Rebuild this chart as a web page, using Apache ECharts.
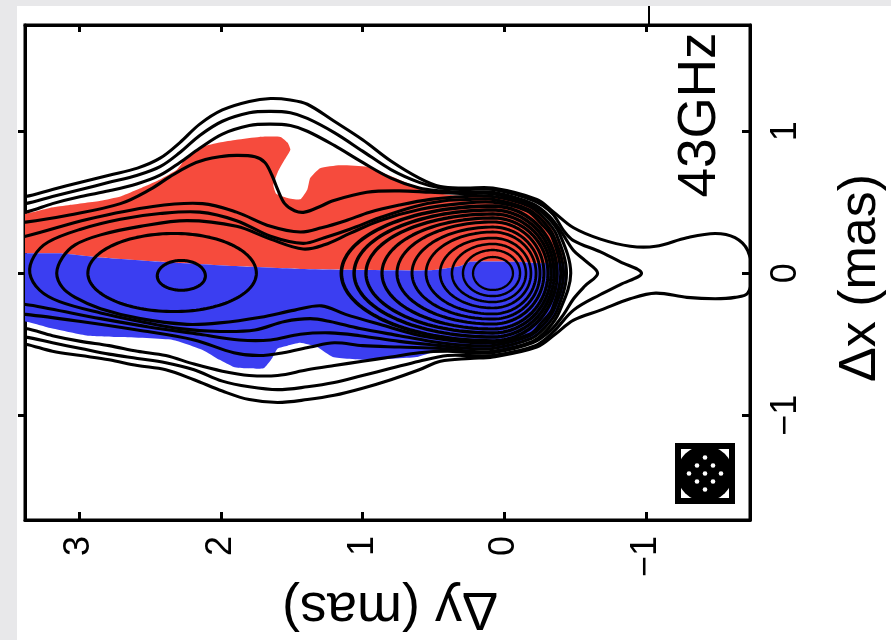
<!DOCTYPE html>
<html>
<head>
<meta charset="utf-8">
<title>43GHz polarization map</title>
<script src="https://cdn.jsdelivr.net/npm/echarts@6.0.0/dist/echarts.min.js"></script>
<style>
  html, body { margin: 0; padding: 0; background: #fff; }
  #chart { width: 891px; height: 640px; }
</style>
</head>
<body>
<div id="chart"></div>
<script>
// ---- axis ticks and texts ----
const dyTicks = [-1, 0, 1, 2, 3];
const dxTicks = [-1, 0, 1];
const bandLabel = '43GHz';
const dyTitle = '\u0394y (mas)';
const dxTitle = '\u0394x (mas)';

// ---- signed regions, outlines as [Δy, Δx] in mas ----
const positiveRegion = [
  [3.56,0.42],[3.38,0.42],[3.21,0.46],[3.07,0.48],[2.85,0.51],[2.71,0.54],[2.54,0.61],[2.43,0.66],
  [2.31,0.73],[2.24,0.82],[2.13,0.89],[2.01,0.92],[1.89,0.94],[1.73,0.96],[1.58,0.96],[1.53,0.92],
  [1.51,0.87],[1.55,0.80],[1.60,0.71],[1.63,0.62],[1.61,0.56],[1.53,0.53],[1.44,0.52],[1.39,0.59],
  [1.37,0.67],[1.30,0.74],[1.16,0.76],[0.97,0.75],[0.79,0.68],[0.62,0.61],[0.45,0.56],[0.24,0.54],
  [0.00,0.53],[-0.18,0.47],[-0.31,0.36],[-0.39,0.20],[-0.42,0.07],
  [-0.25,0.07],[-0.08,0.08],[0.24,0.08],[0.31,0.05],[0.52,0.02],[1.44,0.03],[1.91,0.05],[2.43,0.08],
  [2.85,0.11],[3.14,0.14],[3.38,0.14],[3.56,0.14]
];
const negativeRegion = [
  [3.56,0.14],[3.38,0.14],[3.14,0.14],[2.85,0.11],[2.43,0.08],[1.91,0.05],[1.44,0.03],[0.52,0.02],
  [0.31,0.05],[0.24,0.08],[-0.08,0.08],[-0.25,0.07],[-0.42,0.07],
  [-0.43,-0.06],[-0.39,-0.22],[-0.31,-0.36],[-0.18,-0.47],[0.00,-0.53],[0.24,-0.54],[0.45,-0.54],
  [0.62,-0.59],[0.97,-0.61],[1.21,-0.59],[1.32,-0.52],[1.44,-0.49],[1.53,-0.51],[1.60,-0.53],
  [1.64,-0.60],[1.70,-0.67],[1.82,-0.67],[1.91,-0.66],[2.01,-0.61],[2.13,-0.54],[2.34,-0.47],
  [2.71,-0.45],[2.94,-0.44],[3.19,-0.39],[3.38,-0.34],[3.56,-0.33]
];

// ---- jet contours, outermost first, [Δy, Δx] in mas ----
const contour1 = [
  [3.56,0.52],[3.38,0.54],[3.19,0.59],[2.99,0.64],[2.79,0.69],[2.59,0.74],[2.43,0.81],[2.29,0.92],
  [2.15,1.05],[1.99,1.15],[1.80,1.21],[1.65,1.23],[1.51,1.22],[1.39,1.19],[1.20,1.07],[1.00,0.94],
  [0.80,0.79],[0.60,0.67],[0.45,0.61],[0.28,0.60],[0.08,0.60],[-0.23,0.52],[-0.35,0.43],[-0.49,0.32],
  [-0.68,0.24],[-0.89,0.19],[-1.07,0.19],[-1.29,0.25],[-1.49,0.28],[-1.63,0.25],[-1.72,0.16],[-1.75,0.00],
  [-1.72,-0.14],[-1.63,-0.17],[-1.49,-0.18],[-1.29,-0.17],[-1.07,-0.14],[-0.89,-0.18],[-0.68,-0.26],
  [-0.49,-0.33],[-0.36,-0.43],[-0.23,-0.52],[0.08,-0.59],[0.24,-0.60],[0.45,-0.62],[0.60,-0.68],
  [0.80,-0.75],[1.00,-0.81],[1.20,-0.86],[1.39,-0.89],[1.60,-0.91],[1.80,-0.89],[1.99,-0.83],
  [2.19,-0.75],[2.39,-0.68],[2.59,-0.65],[2.79,-0.61],[2.99,-0.58],[3.19,-0.55],[3.38,-0.50],[3.56,-0.48]
];
const contour2 = [
  [3.56,0.47],[3.38,0.49],[3.19,0.54],[2.99,0.59],[2.79,0.64],[2.59,0.69],[2.43,0.75],[2.29,0.85],
  [2.15,0.97],[1.99,1.07],[1.80,1.13],[1.65,1.14],[1.51,1.13],[1.39,1.09],[1.20,0.99],[1.00,0.86],
  [0.80,0.73],[0.60,0.64],[0.45,0.60],[0.28,0.59],[0.08,0.59],[-0.21,0.51],[-0.34,0.42],[-0.42,0.30],
  [-0.49,0.23],[-0.68,0.15],[-0.82,0.08],[-0.97,0.00],[-0.82,-0.08],[-0.68,-0.15],[-0.49,-0.26],
  [-0.35,-0.41],[-0.22,-0.51],[0.08,-0.58],[0.24,-0.58],[0.40,-0.58],[0.60,-0.62],[0.80,-0.67],
  [1.00,-0.72],[1.20,-0.77],[1.39,-0.80],[1.60,-0.82],[1.80,-0.80],[1.99,-0.76],[2.19,-0.68],
  [2.39,-0.63],[2.59,-0.60],[2.79,-0.57],[2.99,-0.53],[3.19,-0.49],[3.38,-0.45],[3.56,-0.44]
];
const contour3 = [
  [3.56,0.42],[3.38,0.43],[3.19,0.49],[2.99,0.54],[2.79,0.58],[2.59,0.63],[2.43,0.69],[2.29,0.78],
  [2.15,0.88],[1.99,0.98],[1.80,1.04],[1.65,1.05],[1.51,1.04],[1.39,1.00],[1.20,0.90],[1.00,0.78],
  [0.80,0.67],[0.60,0.60],[0.45,0.58],[0.28,0.57],[0.08,0.57],[-0.20,0.49],[-0.32,0.40],[-0.41,0.28],
  [-0.49,0.16],[-0.57,0.09],[-0.66,0.00],[-0.57,-0.09],[-0.49,-0.18],[-0.42,-0.29],[-0.33,-0.40],
  [-0.20,-0.49],[0.08,-0.56],[0.24,-0.56],[0.40,-0.55],[0.60,-0.56],[0.80,-0.59],[1.00,-0.62],
  [1.20,-0.65],[1.39,-0.68],[1.60,-0.72],[1.80,-0.72],[1.99,-0.69],[2.19,-0.64],[2.39,-0.58],
  [2.59,-0.55],[2.79,-0.51],[2.99,-0.48],[3.19,-0.44],[3.38,-0.39],[3.56,-0.38]
];
const contour4 = [
  [3.56,0.35],[3.38,0.36],[3.07,0.41],[2.71,0.49],[2.50,0.59],[2.36,0.68],[2.22,0.76],[2.11,0.80],
  [2.01,0.82],[1.89,0.83],[1.76,0.82],[1.69,0.78],[1.64,0.69],[1.60,0.59],[1.55,0.49],[1.48,0.44],
  [1.41,0.43],[1.30,0.47],[1.21,0.51],[0.97,0.57],[0.74,0.58],[0.52,0.57],[0.28,0.56],[0.08,0.56],
  [-0.19,0.48],[-0.30,0.40],[-0.39,0.28],[-0.47,0.00],[-0.39,-0.27],[-0.31,-0.39],[-0.20,-0.48],
  [0.08,-0.55],[0.24,-0.55],[0.45,-0.53],[0.74,-0.52],[1.00,-0.51],[1.20,-0.49],[1.37,-0.52],
  [1.56,-0.56],[1.73,-0.58],[1.91,-0.56],[2.19,-0.47],[2.59,-0.40],[2.99,-0.34],[3.38,-0.29],[3.56,-0.28]
];
const contour5 = [
  [3.56,0.23],[3.38,0.26],[2.94,0.38],[2.48,0.47],[2.13,0.49],[1.89,0.43],[1.65,0.33],[1.44,0.29],
  [1.29,0.32],[1.12,0.37],[0.95,0.43],[0.74,0.48],[0.52,0.52],[0.28,0.54],[0.08,0.54],[-0.18,0.47],
  [-0.29,0.38],[-0.37,0.27],[-0.44,0.00],[-0.37,-0.27],[-0.29,-0.38],[-0.19,-0.46],[0.08,-0.53],
  [0.24,-0.53],[0.45,-0.51],[0.74,-0.48],[1.02,-0.44],[1.23,-0.42],[1.44,-0.43],[1.65,-0.47],
  [1.87,-0.47],[2.15,-0.43],[2.50,-0.38],[2.85,-0.32],[3.21,-0.25],[3.38,-0.22],[3.56,-0.21]
];
const contour6 = [
  [3.35,0.00],[3.32,0.12],[3.22,0.22],[2.99,0.31],[2.71,0.38],[2.43,0.42],[2.15,0.43],[1.89,0.37],
  [1.65,0.26],[1.42,0.21],[1.27,0.25],[1.09,0.31],[0.88,0.39],[0.63,0.47],[0.42,0.51],[0.24,0.52],
  [0.08,0.52],[-0.17,0.45],[-0.27,0.37],[-0.35,0.26],[-0.42,0.00],[-0.35,-0.26],[-0.27,-0.37],
  [-0.18,-0.44],[0.08,-0.51],[0.24,-0.51],[0.45,-0.49],[0.74,-0.44],[1.02,-0.39],[1.23,-0.34],
  [1.37,-0.32],[1.55,-0.34],[1.76,-0.40],[2.01,-0.41],[2.29,-0.39],[2.57,-0.34],[2.85,-0.28],
  [3.14,-0.20],[3.28,-0.12]
];
const contour7 = [
  [3.16,0.00],[3.12,0.11],[3.03,0.20],[2.85,0.27],[2.57,0.33],[2.24,0.37],[1.89,0.33],[1.65,0.24],
  [1.42,0.17],[1.27,0.20],[1.09,0.28],[0.88,0.37],[0.59,0.45],[0.31,0.49],[0.08,0.50],[-0.16,0.44],
  [-0.26,0.35],[-0.34,0.25],[-0.40,0.00],[-0.34,-0.25],[-0.27,-0.34],[-0.18,-0.43],[0.08,-0.49],
  [0.31,-0.48],[0.59,-0.44],[0.88,-0.36],[1.12,-0.29],[1.29,-0.23],[1.48,-0.26],[1.72,-0.31],
  [2.01,-0.35],[2.24,-0.36],[2.57,-0.32],[2.85,-0.25],[3.03,-0.17],[3.12,-0.10]
];
const jetContours = [contour1, contour2, contour3, contour4, contour5, contour6, contour7];

// ---- closed rings: [Δy centre, Δx centre, Δy left, Δy right, Δx top, Δx bottom] (mas) ----
const coreRings = [
  [0.08, 0.00, 0.220, -0.062, 0.114, -0.118],
  [0.08, 0.00, 0.291, -0.112, 0.163, -0.161],
  [0.08, 0.00, 0.369, -0.154, 0.206, -0.203],
  [0.08, 0.00, 0.453, -0.189, 0.248, -0.245],
  [0.08, 0.00, 0.552, -0.225, 0.290, -0.287],
  [0.08, 0.00, 0.651, -0.253, 0.325, -0.323],
  [0.08, 0.00, 0.757, -0.281, 0.361, -0.358],
  [0.08, 0.00, 0.863, -0.309, 0.389, -0.393],
  [0.08, 0.00, 0.976, -0.331, 0.417, -0.421],
  [0.08, 0.00, 1.060, -0.352, 0.445, -0.449],
  [0.08, 0.00, 1.150, -0.373, 0.473, -0.477]
];
const knotRings = [
  [2.33, 0.00, 2.94, 1.75, 0.28, -0.27],
  [2.28, -0.02, 2.45, 2.11, 0.09, -0.12]
];

const FONT = '"Liberation Sans", Arial, Helvetica, sans-serif';
const minusFmt = v => (v < 0 ? '\u2212' + Math.abs(v) : String(v));

// Four quarter-ellipses joined into one closed ring outline
function ringOutline(r, steps) {
  const [cy, cx, yl, yr, xt, xb] = r;
  const pts = [];
  for (let i = 0; i < steps; i++) {
    const t = (2 * Math.PI * i) / steps;
    const u = Math.cos(t), v = Math.sin(t);
    const dy = u >= 0 ? cy - (cy - yr) * u : cy - (yl - cy) * u;
    const dx = v >= 0 ? cx + (xt - cx) * v : cx + (cx - xb) * v;
    pts.push([dy, dx]);
  }
  return pts;
}

function outlineSeries(list, style, smooth, z) {
  return {
    type: 'custom',
    coordinateSystem: 'cartesian2d',
    clip: true,
    silent: true,
    z: z,
    data: list.map(p => p[0]),
    renderItem: (params, api) => ({
      type: 'polygon',
      shape: { points: list[params.dataIndex].map(p => api.coord(p)), smooth: smooth },
      style: Object.assign({}, style)
    })
  };
}

// rings drawn innermost first; outer rings use a heavier pen, as in the packed core
function ringSeries(list, baseWidth, widthStep, z) {
  return {
    type: 'custom',
    coordinateSystem: 'cartesian2d',
    clip: true,
    silent: true,
    z: z,
    data: list.map(r => [r[0], r[1]]),
    renderItem: (params, api) => ({
      type: 'polygon',
      shape: { points: ringOutline(list[params.dataIndex], 140).map(p => api.coord(p)) },
      style: { fill: 'none', stroke: '#000', lineWidth: baseWidth + widthStep * params.dataIndex, lineJoin: 'round' }
    })
  };
}

const lineStyleBlack = { fill: 'none', stroke: '#000', lineWidth: 3.1, lineJoin: 'round' };

const chart = echarts.init(document.getElementById('chart'), null, { renderer: 'canvas' });

const baseX = { type: 'value', inverse: true, min: -1.736, max: 3.384, splitLine: { show: false } };
const baseY = { type: 'value', min: -1.738, max: 1.748, splitLine: { show: false } };
const axisLineStyle = { onZero: false, lineStyle: { color: '#000', width: 3 } };

chart.setOption({
  backgroundColor: '#ffffff',
  animation: false,
  grid: { left: 25, right: 141, top: 25, bottom: 120, show: true, borderColor: '#000', borderWidth: 3, backgroundColor: '#fff' },
  xAxis: [
    Object.assign({}, baseX, {
      position: 'bottom',
      axisLine: axisLineStyle,
      axisTick: { inside: true, length: 8, lineStyle: { color: '#000', width: 3 }, customValues: dyTicks },
      axisLabel: { rotate: 90, margin: 16, fontSize: 36, color: '#000', fontFamily: FONT, customValues: dyTicks, formatter: minusFmt }
    }),
    Object.assign({}, baseX, {
      position: 'top',
      axisLine: axisLineStyle,
      axisTick: { inside: true, length: 7, lineStyle: { color: '#000', width: 3 }, customValues: dyTicks },
      axisLabel: { show: false }
    })
  ],
  yAxis: [
    Object.assign({}, baseY, {
      position: 'right',
      axisLine: axisLineStyle,
      axisTick: { inside: true, length: 8, lineStyle: { color: '#000', width: 3 }, customValues: dxTicks },
      axisLabel: { rotate: 90, margin: 18, fontSize: 36, color: '#000', fontFamily: FONT, customValues: dxTicks, formatter: minusFmt }
    }),
    Object.assign({}, baseY, {
      position: 'left',
      axisLine: axisLineStyle,
      axisTick: { inside: false, length: 7, lineStyle: { color: '#000', width: 3 }, customValues: dxTicks },
      axisLabel: { show: false }
    })
  ],
  graphic: [
    { type: 'rect', z: 0, shape: { x: 0, y: 0, width: 891, height: 6 }, style: { fill: '#e8e8ea' } },
    { type: 'rect', z: 0, shape: { x: 0, y: 0, width: 17, height: 640 }, style: { fill: '#e8e8ea' } },
    { type: 'line', z: 5, shape: { x1: 649, y1: 6, x2: 649, y2: 25 }, style: { stroke: '#000', lineWidth: 2 } },
    { type: 'text', z: 20, x: 390, y: 608, rotation: Math.PI,
      style: { text: dyTitle, font: '54px ' + FONT, fill: '#000', align: 'center', verticalAlign: 'middle', textAlign: 'center', textVerticalAlign: 'middle' } },
    { type: 'text', z: 20, x: 861, y: 278, rotation: Math.PI / 2,
      style: { text: dxTitle, font: '52px ' + FONT, fill: '#000', align: 'center', verticalAlign: 'middle', textAlign: 'center', textVerticalAlign: 'middle' } },
    { type: 'text', z: 20, x: 700, y: 115, rotation: Math.PI / 2,
      style: { text: bandLabel, font: '53px ' + FONT, fill: '#000', align: 'center', verticalAlign: 'middle', textAlign: 'center', textVerticalAlign: 'middle' } },
    // restoring beam
    { type: 'group', z: 20, children: [
      { type: 'rect', shape: { x: 677, y: 445, width: 56, height: 57 }, style: { fill: '#000' } },
      { type: 'rect', shape: { x: 681, y: 449, width: 48, height: 49 }, style: { fill: '#fff' } },
      { type: 'circle', shape: { cx: 705, cy: 473.5, r: 28 }, style: { fill: '#000' } },
      { type: 'rect', shape: { x: 677, y: 445, width: 56, height: 57 }, style: { fill: 'none', stroke: '#000', lineWidth: 4 } },
      { type: 'circle', shape: { cx: 705, cy: 457.5, r: 2.3 }, style: { fill: '#fff' } },
      { type: 'circle', shape: { cx: 713, cy: 465.5, r: 2.3 }, style: { fill: '#fff' } },
      { type: 'circle', shape: { cx: 697, cy: 465.5, r: 2.3 }, style: { fill: '#fff' } },
      { type: 'circle', shape: { cx: 721, cy: 473.5, r: 2.3 }, style: { fill: '#fff' } },
      { type: 'circle', shape: { cx: 705, cy: 473.5, r: 2.3 }, style: { fill: '#fff' } },
      { type: 'circle', shape: { cx: 689, cy: 473.5, r: 2.3 }, style: { fill: '#fff' } },
      { type: 'circle', shape: { cx: 713, cy: 481.5, r: 2.3 }, style: { fill: '#fff' } },
      { type: 'circle', shape: { cx: 697, cy: 481.5, r: 2.3 }, style: { fill: '#fff' } },
      { type: 'circle', shape: { cx: 705, cy: 489.5, r: 2.3 }, style: { fill: '#fff' } }
    ] }
  ],
  series: [
    outlineSeries([positiveRegion], { fill: '#f64b3d', stroke: 'none' }, 0.15, 1),
    outlineSeries([negativeRegion], { fill: '#3b3ef1', stroke: 'none' }, 0.15, 1),
    outlineSeries(jetContours, lineStyleBlack, 0.35, 3),
    ringSeries(knotRings, 3.1, 0, 3),
    ringSeries(coreRings, 2.3, 0.13, 3)
  ]
});
</script>
</body>
</html>
